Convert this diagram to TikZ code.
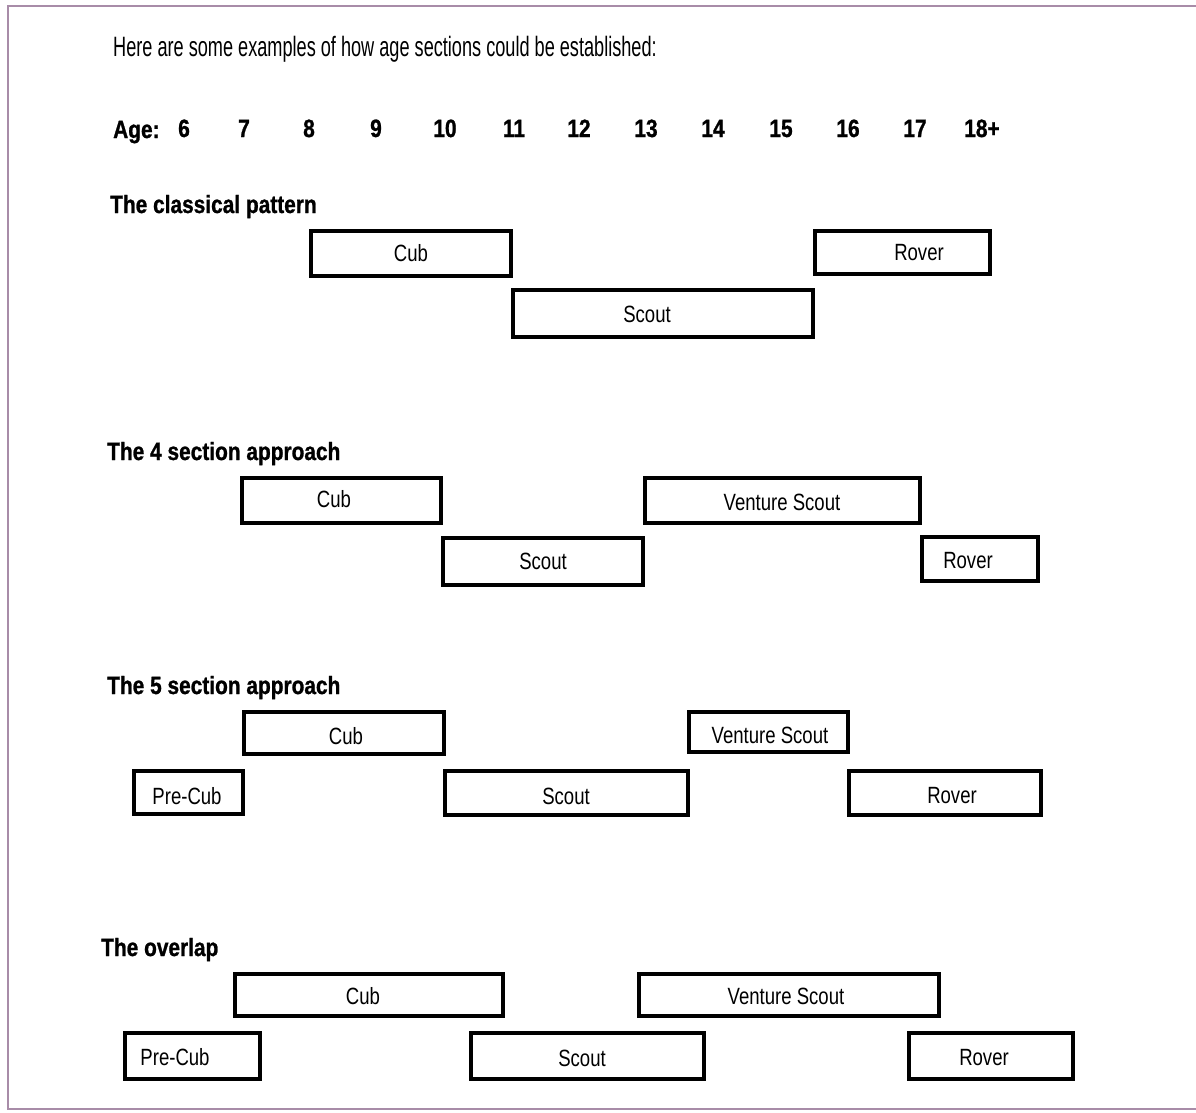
\documentclass[tikz,border=0pt]{standalone}
\usepackage{fontspec}
\setmainfont{Liberation Sans}
\newfontfamily\introfont[FakeStretch=0.648]{Liberation Sans}
\newfontfamily\headfont[FakeStretch=0.835, FakeBold=1]{Liberation Sans}
\newfontfamily\boxfont[FakeStretch=0.79]{Liberation Sans}
\definecolor{framecol}{HTML}{A88CA8}

% section bar: name, left, top, right, bottom (outer edges), label x, label y, text
\newcommand\secbar[8]{%
  \node[secrect, minimum width={(#4-#2-4)*1pt}, minimum height={(#5-#3-4)*1pt}]
    (#1) at ({(#2+#4)/2},{(#3+#5)/2}) {};
  \node[seclabel] (#1-t) at (#6,#7) {#8};
}

\begin{document}
\begin{tikzpicture}[x=1pt, y=-1pt,
  secrect/.style={draw=black, line width=4pt, fill=white, inner sep=0pt, rectangle},
  seclabel/.style={font=\boxfont\fontsize{23.5}{23.5}\selectfont, inner sep=0pt},
  heading/.style={font=\headfont\bfseries\fontsize{25}{25}\selectfont, anchor=base west, inner sep=0pt},
  agenum/.style={font=\headfont\bfseries\fontsize{25}{25}\selectfont, anchor=base, inner sep=0pt},
  intro/.style={font=\introfont\fontsize{28}{28}\selectfont, anchor=base west, inner sep=0pt}]

\useasboundingbox (0,0) rectangle (1196,1112);
\fill[white] (0,0) rectangle (1196,1112);

% page frame (open to the right)
\draw[framecol, line width=1.5pt] (1200,6) -- (8,6) -- (8,1109) -- (1200,1109);

% introduction and age scale
\node[intro] (intro) at (113,56) {Here are some examples of how age sections could be established:};
\node[heading] (age) at (113,138) {Age:};
\foreach \v/\x in {6/184, 7/244, 8/309, 9/376, 10/445, 11/514, 12/579,
                   13/646, 14/713, 15/781, 16/848, 17/915}{
  \node[agenum] (a\v) at (\x,137) {\v};
}
\node[agenum] (a18) at (982,137) {18+};

% the classical pattern
\node[heading] (h1) at (110,213) {The classical pattern};
\secbar{c-cub}{309}{229}{513}{278}{411}{253}{Cub}
\secbar{c-rover}{813}{229}{992}{276}{919}{253}{Rover}
\secbar{c-scout}{511}{288}{815}{339}{647}{314}{Scout}

% the 4 section approach
\node[heading] (h2) at (107,460) {The 4 section approach};
\secbar{f-cub}{240}{476}{443}{525}{334}{499}{Cub}
\secbar{f-vent}{643}{476}{922}{525}{782}{502}{Venture Scout}
\secbar{f-scout}{441}{536}{645}{587}{543}{561}{Scout}
\secbar{f-rover}{920}{535}{1040}{583}{968}{561}{Rover}

% the 5 section approach
\node[heading] (h3) at (107,694) {The 5 section approach};
\secbar{v-cub}{242}{710}{446}{756}{346}{736}{Cub}
\secbar{v-vent}{687}{710}{850}{754}{770}{735}{Venture Scout}
\secbar{v-pre}{132}{769}{245}{816}{187}{796}{Pre-Cub}
\secbar{v-scout}{443}{769}{690}{817}{566}{796}{Scout}
\secbar{v-rover}{847}{769}{1043}{817}{952}{796}{Rover}

% the overlap
\node[heading] (h4) at (101,956) {The overlap};
\secbar{o-cub}{233}{972}{505}{1018}{363}{996}{Cub}
\secbar{o-vent}{637}{972}{941}{1018}{786}{996}{Venture Scout}
\secbar{o-pre}{123}{1031}{262}{1081}{175}{1057}{Pre-Cub}
\secbar{o-scout}{469}{1031}{706}{1081}{582}{1058}{Scout}
\secbar{o-rover}{907}{1031}{1075}{1081}{984}{1058}{Rover}
\end{tikzpicture}
\end{document}
